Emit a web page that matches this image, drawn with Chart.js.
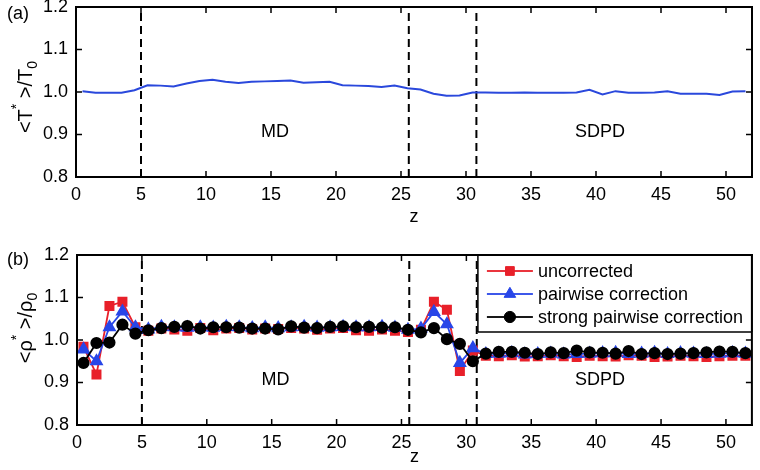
<!DOCTYPE html>
<html><head><meta charset="utf-8">
<script src="https://cdn.jsdelivr.net/npm/chart.js@4/dist/chart.umd.min.js"></script>
<style>
html,body{margin:0;padding:0;background:#fff;}
#wrap{position:relative;width:760px;height:470px;overflow:hidden;}
canvas{display:block;}
</style></head><body>
<div id="wrap">
<canvas id="c1" width="760" height="235"></canvas>
<canvas id="c2" width="760" height="235"></canvas>
</div>
<script>
// ---- data ----
const zBins = [0.5,1.5,2.5,3.5,4.5,5.5,6.5,7.5,8.5,9.5,10.5,11.5,12.5,13.5,14.5,15.5,16.5,17.5,18.5,19.5,
  20.5,21.5,22.5,23.5,24.5,25.5,26.5,27.5,28.5,29.5,30.5,31.5,32.5,33.5,34.5,35.5,36.5,37.5,38.5,39.5,
  40.5,41.5,42.5,43.5,44.5,45.5,46.5,47.5,48.5,49.5,50.5,51.5];
const tempRatio = [1.002,0.998,0.998,0.998,1.004,1.016,1.015,1.013,1.020,1.026,1.029,1.024,1.021,1.024,1.025,1.026,1.027,1.022,1.023,1.024,
  1.016,1.015,1.014,1.012,1.015,1.009,1.006,0.996,0.991,0.992,0.999,0.999,0.998,0.998,0.999,0.998,0.998,0.998,0.999,1.005,
  0.994,1.002,0.998,0.998,0.999,1.002,0.996,0.996,0.996,0.993,1.001,1.002];
const rhoUncorrected = [0.984,0.919,1.080,1.090,1.030,1.022,1.027,1.025,1.022,1.028,1.023,1.027,1.028,1.025,1.027,1.026,1.028,1.027,1.024,1.027,
  1.028,1.023,1.022,1.025,1.022,1.019,1.024,1.090,1.071,0.927,0.975,0.963,0.962,0.964,0.961,0.962,0.964,0.962,0.960,0.963,
  0.962,0.961,0.964,0.963,0.960,0.961,0.963,0.962,0.960,0.962,0.963,0.963];
const rhoPairwise = [0.978,0.950,1.030,1.067,1.030,1.025,1.031,1.030,1.029,1.030,1.029,1.031,1.030,1.028,1.030,1.028,1.030,1.031,1.029,1.030,
  1.031,1.030,1.030,1.031,1.029,1.024,1.027,1.066,1.037,0.946,0.981,0.967,0.968,0.969,0.966,0.967,0.968,0.966,0.967,0.968,
  0.969,0.970,0.967,0.968,0.970,0.967,0.969,0.968,0.967,0.968,0.969,0.968];
const rhoStrong = [0.946,0.993,0.994,1.036,1.015,1.023,1.028,1.031,1.033,1.027,1.030,1.030,1.029,1.027,1.027,1.025,1.032,1.029,1.028,1.031,
  1.032,1.030,1.031,1.029,1.030,1.024,1.018,1.028,1.002,0.991,0.950,0.968,0.972,0.972,0.970,0.967,0.971,0.969,0.975,0.971,
  0.970,0.968,0.974,0.967,0.969,0.967,0.968,0.969,0.971,0.973,0.972,0.969];
const boundaries = [5, 25.6, 30.8];
const xTicks = [0,5,10,15,20,25,30,35,40,45,50];
const yTicks = [0.8,0.9,1.0,1.1,1.2];
const seriesNames = ['uncorrected','pairwise correction','strong pairwise correction'];
const regionLabels = ['MD','SDPD'];
const regionPos = [15.3, 40.3];

// ---- helpers ----
const FONT = '"Liberation Sans", Arial, sans-serif';
const pts = (xs, ys) => xs.map((x,i)=>({x:x, y:ys[i]}));
const dashSets = () => boundaries.map(b => ({
  data:[{x:b,y:0.8},{x:b,y:1.2}], borderColor:'#000', borderWidth:2, borderDash:[8,5],
  pointRadius:0, fill:false, order:10, isBoundary:true, xAxisID:'x', yAxisID:'y'
}));

function drawYTitle(ctx, parts, bx, cy, size){
  ctx.save();
  ctx.translate(bx, cy);
  ctx.rotate(-Math.PI/2);
  let w = 0;
  parts.forEach(p=>{ ctx.font = (p.small? Math.round(size*0.68) : size) + 'px ' + FONT; w += ctx.measureText(p.t).width; });
  let x = -w/2;
  ctx.fillStyle = '#000';
  ctx.textBaseline = 'alphabetic';
  ctx.textAlign = 'left';
  parts.forEach(p=>{
    ctx.font = (p.small? Math.round(size*0.68) : size) + 'px ' + FONT;
    ctx.fillText(p.t, x, p.dy||0);
    x += ctx.measureText(p.t).width;
  });
  ctx.restore();
}
function hline(ctx, x1, x2, y, w){ ctx.fillRect(Math.min(x1,x2), y - w/2, Math.abs(x2-x1), w); }
function vline(ctx, x, y1, y2, w){ ctx.fillRect(x - w/2, Math.min(y1,y2), w, Math.abs(y2-y1)); }

function framePlugin(opts){
  return {
    id:'frame'+opts.id,
    afterDraw(chart){
      const ctx = chart.ctx;
      const xs = chart.scales.x, ys = chart.scales.y;
      const a = {left: xs.getPixelForValue(0), right: xs.getPixelForValue(52),
                 top: ys.getPixelForValue(1.2), bottom: ys.getPixelForValue(0.8)};
      ctx.save();
      ctx.fillStyle = '#000';
      ctx.font = '18px ' + FONT;
      ctx.textAlign = 'center'; ctx.textBaseline = 'middle';
      regionLabels.forEach((t,i)=>{
        ctx.fillText(t, xs.getPixelForValue(regionPos[i]), ys.getPixelForValue(0.905));
      });
      ctx.fillStyle = '#000';
      const tl = 6, tw = 1.5;
      xTicks.forEach(v=>{
        const px = xs.getPixelForValue(v);
        vline(ctx, px, a.bottom, a.bottom - tl, tw);
        vline(ctx, px, a.top, a.top + tl, tw);
      });
      yTicks.forEach(v=>{
        const py = ys.getPixelForValue(v);
        hline(ctx, a.left, a.left + tl, py, tw);
        hline(ctx, a.right, a.right - tl, py, tw);
      });
      if (opts.legend) {
        const L = a.right - 274, T = a.top, R = a.right, B = a.top + 77;
        ctx.fillStyle = '#fff';
        ctx.fillRect(L, T, R-L, B-T);
        ctx.fillStyle = '#000';
        hline(ctx, L, R, T, 1.5); hline(ctx, L, R, B, 1.5);
        vline(ctx, L, T, B, 1.5); vline(ctx, R, T, B, 1.5);
        const ds = chart.data.datasets.filter(d=>!d.isBoundary);
        ds.forEach((d,i)=>{
          const y = T + 16 + i*23;
          ctx.fillStyle = d.borderColor;
          hline(ctx, L+9, L+55, y, d.borderWidth);
          ctx.fillStyle = d.pointBackgroundColor;
          ctx.strokeStyle = d.pointBorderColor;
          ctx.lineWidth = 1;
          ctx.setLineDash([]);
          Chart.helpers.drawPoint(ctx, {pointStyle:d.pointStyle, radius:d.pointRadius+0.4, rotation:0, borderWidth:1}, L+32, y);
          ctx.fillStyle = '#000';
          ctx.font = '18px ' + FONT;
          ctx.textAlign = 'left'; ctx.textBaseline = 'middle';
          ctx.fillText(d.label, L+60, y+1);
        });
      }
      ctx.fillStyle = '#000';
      hline(ctx, a.left-1, a.right+1, a.top, 2);
      hline(ctx, a.left-1, a.right+1, a.bottom, 2);
      vline(ctx, a.left, a.top-1, a.bottom+1, 2);
      vline(ctx, a.right, a.top-1, a.bottom+1, 2);
      ctx.fillStyle = '#000';
      ctx.font = '18px ' + FONT;
      ctx.textAlign = 'center'; ctx.textBaseline = 'middle';
      ctx.fillText('z', (a.left+a.right)/2, a.bottom + opts.zOff);
      ctx.textAlign = 'left';
      ctx.fillText(opts.panel, 7, opts.panelY);
      drawYTitle(ctx, opts.ytitle, 32, opts.ytitleCy, 20);
      ctx.restore();
    }
  };
}

function scales(xH, yW){
  return {
    x:{type:'linear', min:0, max:52,
      grid:{display:false, drawTicks:false}, border:{display:false},
      ticks:{color:'#000', font:{family:FONT, size:18}, padding:7, maxRotation:0},
      afterBuildTicks:s=>{ s.ticks = xTicks.map(v=>({value:v})); },
      afterFit:s=>{ s.height = xH; s.paddingLeft=0; s.paddingRight=0; }
    },
    y:{type:'linear', min:0.8, max:1.2,
      grid:{display:false, drawTicks:false}, border:{display:false},
      ticks:{color:'#000', font:{family:FONT, size:18}, padding:8, callback:v=>Number(v).toFixed(1)},
      afterBuildTicks:s=>{ s.ticks = yTicks.map(v=>({value:v})); },
      afterFit:s=>{ s.width = yW; s.paddingTop=0; s.paddingBottom=0; }
    }
  };
}

const common = {responsive:false, animation:false, devicePixelRatio:1,
  plugins:{legend:{display:false}, tooltip:{enabled:false}}};

// software-rendered 2D contexts
const cv1 = document.getElementById('c1'), cv2 = document.getElementById('c2');
cv1.getContext('2d', {willReadFrequently:true});
cv2.getContext('2d', {willReadFrequently:true});

new Chart(cv1, {
  type:'line',
  data:{datasets:[
    {label:'T', data:pts(zBins,tempRatio), borderColor:'#2a48dc', borderWidth:2, pointRadius:0, tension:0, fill:false, order:1, xAxisID:'x', yAxisID:'y'},
    ...dashSets()
  ]},
  options:Object.assign({}, common, {
    layout:{padding:{top:7, right:8, left:0, bottom:0}},
    scales:scales(58, 76)
  }),
  plugins:[framePlugin({id:1, panel:'(a)', panelY:14, zOff:40, ytitleCy:97,
    ytitle:[{t:'<T'},{t:'*',small:true,dy:-11},{t:' >/T'},{t:'0',small:true,dy:5}]})]
});

new Chart(cv2, {
  type:'line',
  data:{datasets:[
    {label:seriesNames[0], data:pts(zBins,rhoUncorrected), borderColor:'#e8202a', backgroundColor:'#e8202a', pointBackgroundColor:'#e8202a', pointBorderColor:'#e8202a',
      borderWidth:1.8, pointStyle:'rect', pointRadius:5.8, tension:0, fill:false, order:3, xAxisID:'x', yAxisID:'y'},
    {label:seriesNames[1], data:pts(zBins,rhoPairwise), borderColor:'#2846e8', backgroundColor:'#2846e8', pointBackgroundColor:'#2846e8', pointBorderColor:'#2846e8',
      borderWidth:1.8, pointStyle:'triangle', pointRadius:6.3, tension:0, fill:false, order:2, xAxisID:'x', yAxisID:'y'},
    {label:seriesNames[2], data:pts(zBins,rhoStrong), borderColor:'#000', backgroundColor:'#000', pointBackgroundColor:'#000', pointBorderColor:'#000',
      borderWidth:1.8, pointStyle:'circle', pointRadius:5.2, tension:0, fill:false, order:1, xAxisID:'x', yAxisID:'y'},
    ...dashSets()
  ]},
  options:Object.assign({}, common, {
    layout:{padding:{top:20, right:8, left:0, bottom:0}},
    scales:scales(45, 77)
  }),
  plugins:[framePlugin({id:2, panel:'(b)', panelY:25, zOff:32, ytitleCy:93, legend:true,
    ytitle:[{t:'<ρ'},{t:'*',small:true,dy:-11},{t:' >/ρ'},{t:'0',small:true,dy:5}]})]
});
</script>
</body></html>
